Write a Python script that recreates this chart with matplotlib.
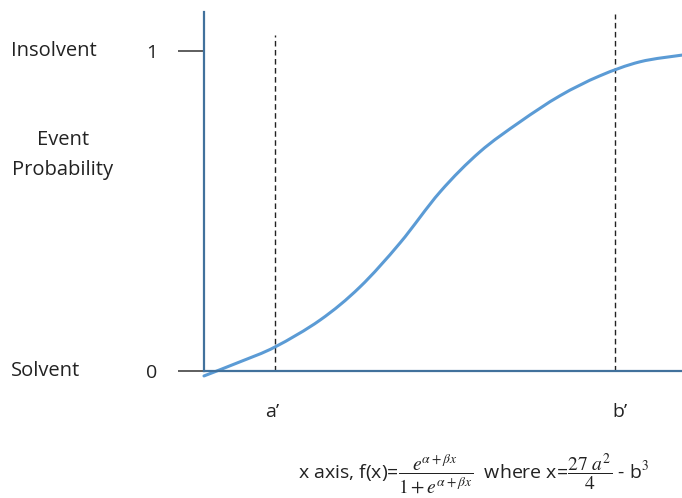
import matplotlib.pyplot as plt
from matplotlib.path import Path
from matplotlib.patches import PathPatch

plt.rcParams['font.family'] = ['Open Sans', 'DejaVu Sans']
plt.rcParams['mathtext.fontset'] = 'stix'

# event probability along the x axis (x in arbitrary units, 0..10)
curve_x = [0.00, 0.75, 1.49, 2.43, 3.26, 4.10, 4.94, 5.77, 6.61, 7.45, 8.28, 9.12, 10.0]
curve_p = [-0.017, 0.027, 0.074, 0.158, 0.261, 0.399, 0.559, 0.684, 0.778, 0.860,
           0.922, 0.966, 0.987]

# thresholds a' and b'
thresh_x = [1.49, 8.60]
thresh_top = [1.05, 1.116]
thresh_labels = ['a\u2019', 'b\u2019']

ytick_vals = [0, 1]
ytick_labels = ['0', '1']
state_labels = ['Solvent', 'Insolvent']


def smooth_path(xs, ys):
    # Catmull-Rom through the points, written out as cubic Bezier segments
    pts = list(zip(xs, ys))
    verts = [pts[0]]
    codes = [Path.MOVETO]
    n = len(pts)
    for i in range(n - 1):
        p0 = pts[max(i - 1, 0)]
        p1 = pts[i]
        p2 = pts[i + 1]
        p3 = pts[min(i + 2, n - 1)]
        c1 = (p1[0] + (p2[0] - p0[0]) / 6, p1[1] + (p2[1] - p0[1]) / 6)
        c2 = (p2[0] - (p3[0] - p1[0]) / 6, p2[1] - (p3[1] - p1[1]) / 6)
        verts += [c1, c2, p2]
        codes += [Path.CURVE4] * 3
    return Path(verts, codes)


fig = plt.figure(figsize=(6.82, 4.98), dpi=100)
ax = fig.add_axes([0.2991, 0.256, 0.7009, 0.720])

curve = PathPatch(smooth_path(curve_x, curve_p), fill=False, edgecolor='#5B9BD5',
                  lw=2.2, clip_on=False, capstyle='round', zorder=3)
ax.add_patch(curve)

for xv, top in zip(thresh_x, thresh_top):
    ax.plot([xv, xv], [0, top], color='#222222', lw=1.0,
            ls=(0, (4, 2.5)), clip_on=False, zorder=2)

ax.set_xlim(0, 10)
ax.set_ylim(0, 1.122)

for side in ['top', 'right']:
    ax.spines[side].set_visible(False)
for side in ['left', 'bottom']:
    ax.spines[side].set_color('#41719C')
    ax.spines[side].set_linewidth(1.6)
    ax.spines[side].set_zorder(4)

ax.set_xticks([])
ax.set_yticks(ytick_vals)
ax.set_yticklabels(ytick_labels, fontsize=14, color='#222222')
ax.tick_params(axis='y', length=18.7, width=1.1, color='#333333', pad=15)

# state names beside the ticks
for yv, name in zip(ytick_vals, state_labels):
    ax.annotate(name, xy=(11 / 682, yv), xycoords=('figure fraction', 'data'),
                ha='left', va='center', fontsize=14.5, color='#222222')

fig.text(63 / 682, 1 - 155 / 498, 'Event\nProbability', ha='center', va='center',
         fontsize=14.5, color='#222222', linespacing=1.65)

label_shift = [-3, 5]
for xv, lab, dx in zip(thresh_x, thresh_labels, label_shift):
    ax.annotate(lab, xy=(xv, 0), xycoords='data', xytext=(dx, -41),
                textcoords='offset pixels', ha='center', va='center',
                fontsize=14, color='#222222')

fig.text(298 / 682, 1 - 473 / 498,
         r'x axis, f(x)=$\dfrac{e^{\alpha+\beta x}}{1+e^{\alpha+\beta x}}$  '
         r'where x=$\dfrac{27\ a^2}{4}$ - b$^3$',
         ha='left', va='center', fontsize=14, color='#222222')

fig.savefig('out.png', dpi=100)
